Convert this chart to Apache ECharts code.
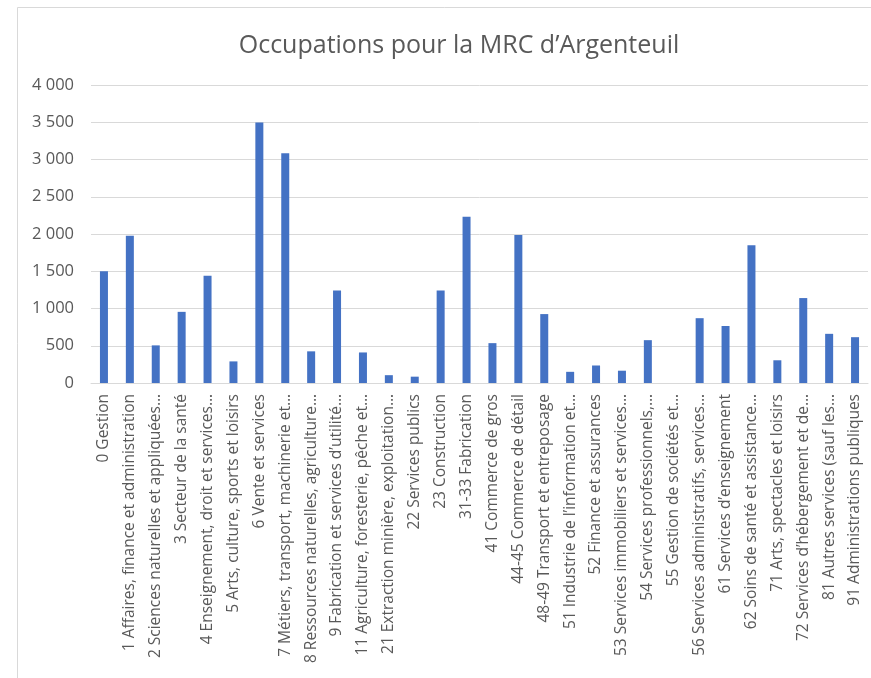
<!DOCTYPE html>
<html>
<head>
<meta charset="utf-8">
<script src="https://cdn.jsdelivr.net/npm/echarts@6/dist/echarts.min.js"></script>
<style>
  html, body { margin: 0; padding: 0; background: #ffffff; }
  #chart { width: 871px; height: 678px; }
</style>
</head>
<body>
<div id="chart"></div>
<script>
// Occupation / industry categories, as displayed (truncated like the source chart)
const categories = [
  '0 Gestion',
  '1 Affaires, finance et administration',
  '2 Sciences naturelles et appliquées…',
  '3 Secteur de la santé',
  '4 Enseignement, droit et services…',
  '5 Arts, culture, sports et loisirs',
  '6 Vente et services',
  '7 Métiers, transport, machinerie et…',
  '8 Ressources naturelles, agriculture…',
  '9 Fabrication et services d’utilité…',
  '11 Agriculture, foresterie, pêche et…',
  '21 Extraction minière, exploitation…',
  '22 Services publics',
  '23 Construction',
  '31-33 Fabrication',
  '41 Commerce de gros',
  '44-45 Commerce de détail',
  '48-49 Transport et entreposage',
  '51 Industrie de l’information et…',
  '52 Finance et assurances',
  '53 Services immobiliers et services…',
  '54 Services professionnels,…',
  '55 Gestion de sociétés et…',
  '56 Services administratifs, services…',
  '61 Services d’enseignement',
  '62 Soins de santé et assistance…',
  '71 Arts, spectacles et loisirs',
  '72 Services d’hébergement et de…',
  '81 Autres services (sauf les…',
  '91 Administrations publiques'
];

const counts = [
  1500, 1975, 505, 955, 1440, 290, 3495, 3085, 425, 1240,
  410, 105, 85, 1240, 2230, 535, 1985, 925, 150, 235,
  165, 575, 0, 870, 765, 1850, 305, 1140, 660, 615
];

const yTicks = { min: 0, max: 4000, interval: 500 };

const textGrey = '#595959';
const gridGrey = '#d9d9d9';
const fontFamily = '"Open Sans", "Liberation Sans", sans-serif';

const chart = echarts.init(document.getElementById('chart'), null, { renderer: 'canvas' });

// "4 000" style thousands with a space
const fmt = (v) => String(v).replace(/\B(?=(\d{3})+(?!\d))/g, ' ');

chart.setOption({
  backgroundColor: '#ffffff',
  animation: false,
  graphic: [{
    type: 'rect',
    shape: { x: 17.5, y: 7.5, width: 900, height: 700 },
    style: { fill: 'none', stroke: gridGrey, lineWidth: 1 },
    silent: true
  }],
  title: {
    text: 'Occupations pour la MRC d’Argenteuil',
    left: 454,
    top: 28,
    textAlign: 'center',
    textStyle: { color: textGrey, fontSize: 25, fontWeight: 'normal', fontFamily }
  },
  grid: { left: 91, right: 3, top: 85, bottom: 295, containLabel: false },
  xAxis: {
    type: 'category',
    data: categories,
    axisLine: { lineStyle: { color: gridGrey } },
    axisTick: { show: false },
    axisLabel: {
      rotate: 90,
      interval: 0,
      margin: 11,
      color: textGrey,
      fontSize: 15.5,
      fontFamily
    }
  },
  yAxis: {
    type: 'value',
    min: yTicks.min,
    max: yTicks.max,
    interval: yTicks.interval,
    axisLine: { show: false },
    axisTick: { show: false },
    splitLine: { lineStyle: { color: gridGrey, width: 1 } },
    axisLabel: {
      color: textGrey,
      fontSize: 16.5,
      fontFamily,
      margin: 17,
      formatter: fmt
    }
  },
  series: [{
    type: 'bar',
    data: counts,
    barWidth: 8,
    itemStyle: { color: '#4472c4' }
  }]
});
</script>
</body>
</html>
